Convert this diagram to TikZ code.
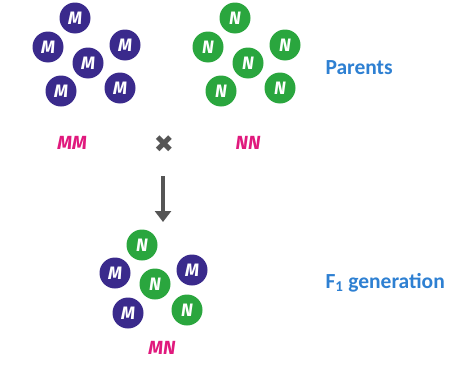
\documentclass[tikz,border=0pt]{standalone}
\usepackage{fontspec}
\setmainfont{Carlito}
\newfontfamily\letterfont{Fira Sans}
\newfontfamily\symbolfont{DejaVu Sans}
\usetikzlibrary{arrows.meta}
\definecolor{allM}{HTML}{3A2A8C}
\definecolor{allN}{HTML}{2AA63E}
\definecolor{geno}{HTML}{E0197D}
\definecolor{stage}{HTML}{2E80D2}
\definecolor{crossgray}{HTML}{555555}
\tikzset{
  allele/.style={circle, minimum size=31pt, inner sep=0pt, text=white,
    font=\letterfont\fontsize{18}{18}\selectfont\bfseries\itshape},
  mallele/.style={allele, fill=allM},
  nallele/.style={allele, fill=allN},
  genotype/.style={text=geno, font=\letterfont\fontsize{19}{19}\selectfont\bfseries\itshape},
  stagelabel/.style={text=stage, anchor=west, font=\fontsize{21.5}{21.5}\selectfont\bfseries},
}
\begin{document}
\begin{tikzpicture}[x=1pt, y=-1pt]
  \useasboundingbox (0,0) rectangle (454,364);
  % parent MM
  \node[mallele] (m1) at (75,18) {M};
  \node[mallele] (m2) at (48,47) {M};
  \node[mallele] (m3) at (125,45) {M};
  \node[mallele] (m4) at (88,63) {M};
  \node[mallele] (m5) at (61,91) {M};
  \node[mallele] (m6) at (120,88) {M};
  % parent NN
  \node[nallele] (n1) at (235,18) {N};
  \node[nallele] (n2) at (208,47) {N};
  \node[nallele] (n3) at (285,45) {N};
  \node[nallele] (n4) at (248,63) {N};
  \node[nallele] (n5) at (221,91) {N};
  \node[nallele] (n6) at (280,88) {N};
  % offspring MN
  \node[nallele] (f1) at (142,245) {N};
  \node[mallele] (f2) at (115,273) {M};
  \node[mallele] (f3) at (192,270) {M};
  \node[nallele] (f4) at (155,284) {N};
  \node[mallele] (f5) at (128,313) {M};
  \node[nallele] (f6) at (187,310) {N};
  % labels
  \node[genotype] (gmm) at (72,143) {MM};
  \node[genotype] (gnn) at (248,143) {NN};
  \node[genotype] (gmn) at (162,348) {MN};
  \node[text=crossgray, font=\symbolfont\fontsize{24}{24}\selectfont] (cross) at (164,144) {✖};
  \coordinate (arrtop) at (163,176);
  \coordinate (arrbot) at (163,222);
  \draw[crossgray, line width=4.5pt, -{Triangle[length=11pt, width=16pt]}] (arrtop) -- (arrbot);
  \node[stagelabel] (par) at (322,68) {Parents};
  \node[stagelabel] (gen) at (322,283) {F\textsubscript{1} generation};
\end{tikzpicture}
\end{document}
